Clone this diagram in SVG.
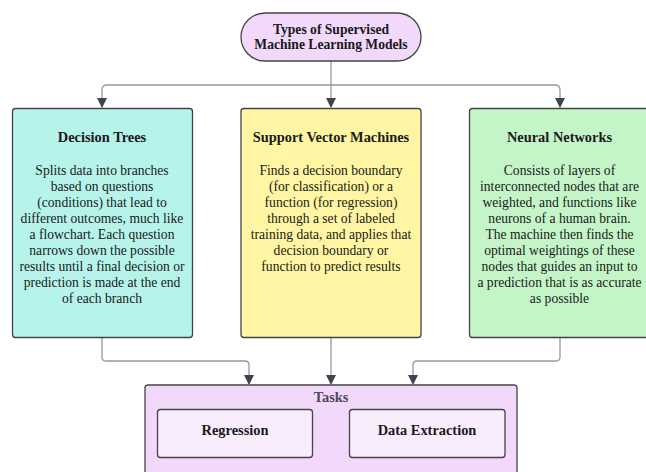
<svg xmlns="http://www.w3.org/2000/svg" width="646" height="472" viewBox="0 0 646 472">
<style>
text{font-family:'Liberation Serif','DejaVu Serif',serif;fill:#1a1a1a;text-anchor:middle}
.t{font-weight:bold;font-size:14.4px}
.r{font-weight:bold;font-size:13.6px}
.b{font-size:13.6px}
.box{stroke:#444;stroke-width:1.3}
.c{fill:none;stroke:#999;stroke-width:1.3}
</style>
<defs>
<marker id="ah" viewBox="0 0 10 10" refX="9" refY="5" markerWidth="10" markerHeight="10" markerUnits="userSpaceOnUse" orient="auto">
<path d="M0,0 L10,5 L0,10 z" fill="#3d4450"/>
</marker>
</defs>
<g id="connectors">
<path class="c" d="M331,61 V85"/>
<path class="c" d="M107,85 H555"/>
<path class="c" d="M107,85 Q102,85 102,90 V107" marker-end="url(#ah)"/>
<path class="c" d="M331,85 V107" marker-end="url(#ah)"/>
<path class="c" d="M555,85 Q560,85 560,90 V107" marker-end="url(#ah)"/>
<path class="c" d="M102,338 V357 Q102,361 106,361 H245 Q249,361 249,365 V384" marker-end="url(#ah)"/>
<path class="c" d="M331,338 V384" marker-end="url(#ah)"/>
<path class="c" d="M560,338 V357 Q560,361 556,361 H417 Q413,361 413,365 V384" marker-end="url(#ah)"/>
</g>
<g id="root">
<rect class="box" x="241" y="13" width="180" height="48" rx="24" fill="#f2d8fb"/>
<text class="r" x="331" y="34">Types of Supervised</text>
<text class="r" x="331" y="49">Machine Learning Models</text>
</g>
<g id="decision-trees">
<rect class="box" x="12.5" y="108.5" width="180" height="229" rx="3" fill="#b6f3eb"/>
<text class="t" x="102" y="142">Decision Trees</text>
<text class="b" x="102" y="175">Splits data into branches</text>
<text class="b" x="102" y="191">based on questions</text>
<text class="b" x="102" y="207">(conditions) that lead to</text>
<text class="b" x="102" y="223">different outcomes, much like</text>
<text class="b" x="102" y="239">a flowchart. Each question</text>
<text class="b" x="102" y="255">narrows down the possible</text>
<text class="b" x="102" y="271">results until a final decision or</text>
<text class="b" x="102" y="287">prediction is made at the end</text>
<text class="b" x="102" y="303">of each branch</text>
</g>
<g id="svm">
<rect class="box" x="241" y="108.5" width="180" height="229" rx="3" fill="#fff5a2"/>
<text class="t" x="331" y="142">Support Vector Machines</text>
<text class="b" x="331" y="175">Finds a decision boundary</text>
<text class="b" x="331" y="191">(for classification) or a</text>
<text class="b" x="331" y="207">function (for regression)</text>
<text class="b" x="331" y="223">through a set of labeled</text>
<text class="b" x="331" y="239">training data, and applies that</text>
<text class="b" x="331" y="255">decision boundary or</text>
<text class="b" x="331" y="271">function to predict results</text>
</g>
<g id="neural-networks">
<rect class="box" x="469.5" y="108.5" width="180" height="229" rx="3" fill="#c4f5c8"/>
<text class="t" x="559.5" y="142">Neural Networks</text>
<text class="b" x="559.5" y="175">Consists of layers of</text>
<text class="b" x="559.5" y="191">interconnected nodes that are</text>
<text class="b" x="559.5" y="207">weighted, and functions like</text>
<text class="b" x="559.5" y="223">neurons of a human brain.</text>
<text class="b" x="559.5" y="239">The machine then finds the</text>
<text class="b" x="559.5" y="255">optimal weightings of these</text>
<text class="b" x="559.5" y="271">nodes that guides an input to</text>
<text class="b" x="559.5" y="287">a prediction that is as accurate</text>
<text class="b" x="559.5" y="303">as possible</text>
</g>
<g id="tasks">
<rect class="box" x="145" y="385" width="372" height="100" rx="3" fill="#f2d8fb"/>
<text class="t" x="331" y="402" style="fill:#4a4a55">Tasks</text>
</g>
<g id="regression">
<rect class="box" x="157.5" y="409.5" width="155" height="48" rx="3" fill="#f9edfd"/>
<text class="t" x="235" y="435">Regression</text>
</g>
<g id="data-extraction">
<rect class="box" x="349.5" y="409.5" width="155.5" height="48" rx="3" fill="#f9edfd"/>
<text class="t" x="427" y="435">Data Extraction</text>
</g>
</svg>
